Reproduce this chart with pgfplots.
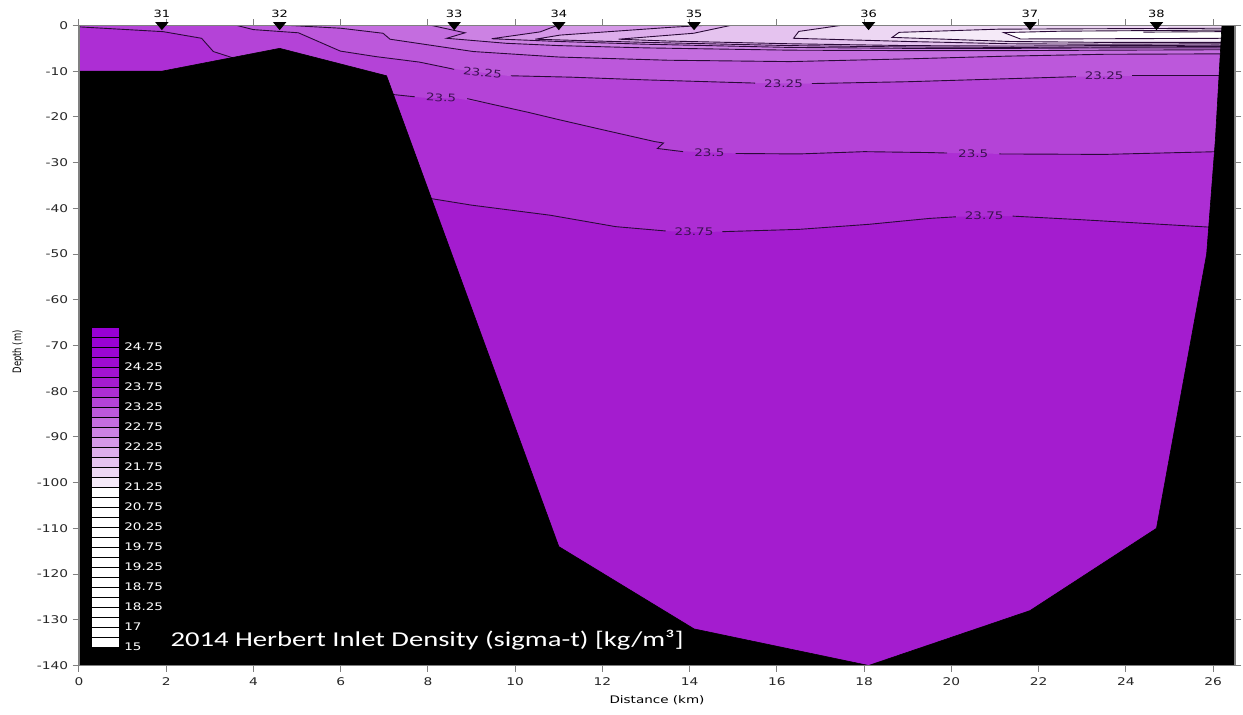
\documentclass[border=0pt]{standalone}
\usepackage{fontspec}
\setmainfont{DejaVu Sans}[FakeStretch=1.3]
\newfontfamily\titlefont{Carlito}[FakeStretch=1.35]
\newfontfamily\yfont{DejaVu Sans}[FakeStretch=0.72]
\usepackage{pgfplots}
\pgfplotsset{compat=1.18}
% band colours (named by lower bound of band)
\definecolor{c2375}{HTML}{A41CCF}
\definecolor{c2350}{HTML}{AD2ED4}
\definecolor{c2325}{HTML}{B443D7}
\definecolor{c2300}{HTML}{BC58DB}
\definecolor{c2275}{HTML}{C46DDF}
\definecolor{c2250}{HTML}{CC82E3}
\definecolor{c2225}{HTML}{D598E7}
\definecolor{c2200}{HTML}{DDAEEB}
\definecolor{c2175}{HTML}{E5C3EF}
\definecolor{c2150}{HTML}{EDD7F3}
\definecolor{c2125}{HTML}{F5EAF8}
\definecolor{cline}{HTML}{2A0A38}
\definecolor{clab}{HTML}{3A1050}
% colour-bar boxes (bottom to top)
\colorlet{cb0}{white}\colorlet{cb1}{white}\colorlet{cb2}{white}\colorlet{cb3}{white}
\colorlet{cb4}{white}\colorlet{cb5}{white}\colorlet{cb6}{white}\colorlet{cb7}{white}
\colorlet{cb8}{white}\colorlet{cb9}{white}\colorlet{cb10}{white}\colorlet{cb11}{white}
\colorlet{cb12}{white}\colorlet{cb13}{white}\colorlet{cb14}{white}\colorlet{cb15}{white}
\colorlet{cb16}{c2125}\colorlet{cb17}{c2150}\colorlet{cb18}{c2175}\colorlet{cb19}{c2200}
\colorlet{cb20}{c2225}\colorlet{cb21}{c2250}\colorlet{cb22}{c2275}\colorlet{cb23}{c2300}
\colorlet{cb24}{c2325}\colorlet{cb25}{c2350}\colorlet{cb26}{c2375}
\definecolor{cb27}{HTML}{A213D1}\definecolor{cb28}{HTML}{9F0CD2}
\definecolor{cb29}{HTML}{9C06D3}\definecolor{cb30}{HTML}{9A02D4}\definecolor{cb31}{HTML}{9800D5}
\newcommand\tickf{\fontsize{5.3}{6}\selectfont}
\newcommand\statf{\fontsize{5.0}{6}\selectfont}
\newcommand\labf{\fontsize{5.2}{6}\selectfont}
\tikzset{cl/.style={draw=cline, line width=0.45pt},
  cbl/.style={font=\labf, text=white, anchor=west, inner sep=0pt},
  clabel/.style={font=\labf, text=clab, inner sep=0pt}}
\begin{document}
\begin{tikzpicture}
\useasboundingbox (0,0) rectangle (621.5pt,357.5pt);
\begin{axis}[
  at={(39.5pt,24.75pt)}, anchor=south west,
  scale only axis, width=578pt, height=320pt,
  xmin=0, xmax=26.5, ymin=-140, ymax=0,
  xtick={0,2,4,6,8,10,12,14,16,18,20,22,24,26},
  xticklabels={0,2,4,6,8,10,12,14,16,18,20,22,24,26},
  ytick={-140,-130,-120,-110,-100,-90,-80,-70,-60,-50,-40,-30,-20,-10,0},
  yticklabels={-140,-130,-120,-110,-100,-90,-80,-70,-60,-50,-40,-30,-20,-10,0},
  tick align=outside, xtick pos=both, ytick pos=both,
  xticklabel pos=lower, yticklabel pos=left,
  major tick length=3.2pt,
  every tick/.style={color=gray, line width=0.5pt},
  axis line style={gray, line width=0.6pt},
  tick label style={font=\tickf, text=black!85},
  xticklabel style={anchor=north, inner sep=0pt, yshift=-2.6pt},
  yticklabel style={anchor=east, inner sep=0pt, xshift=-2pt},
  xlabel={Distance (km)}, ylabel={Depth (m)},
  every axis x label/.style={at={(axis description cs:0.5,-0.054)}, anchor=center, font=\labf},
  every axis y label/.style={at={(axis description cs:-0.0528,0.49)}, anchor=center, rotate=90, font=\yfont\fontsize{5.8}{6}\selectfont},
  clip=false, axis on top,
]
% base (>23.75)
\addplot[fill=c2375, draw=none] coordinates {(0,0) (26.5,0) (26.5,-140) (0,-140)} -- cycle;
% above 23.75
\addplot[fill=c2350, draw=none] coordinates {(0,0) (26.5,0) (26.5,-44.2) (25.8,-44.1) (23,-42.5) (21.3,-41.7) (20.2,-41.8) (19.5,-42.2) (18.1,-43.5) (16.5,-44.6) (14.7,-45.1) (14.1,-45.2) (13.55,-45.0) (12.3,-44.0) (10.8,-41.5) (9.0,-39.3) (8.0,-37.7) (7.5,-40) (0,-40)} -- cycle;
% above 23.5
\addplot[fill=c2325, draw=none] coordinates {(0,-0.3) (1.93,-1.35) (2.81,-2.8) (3.08,-5.7) (3.6,-7.3) (4.6,-20) (7.1,-15.0) (7.9,-15.8) (8.7,-16.0) (9.5,-17.3) (10.3,-19.0) (11.0,-20.6) (12.0,-22.8) (13.2,-25.4) (13.4,-25.7) (13.26,-26.9) (13.8,-27.5) (15.1,-28.0) (16.5,-28.1) (18.0,-27.6) (19.5,-27.8) (21.2,-28.1) (23.5,-28.2) (26.1,-27.6) (26.5,-27.6) (26.5,0) (0,0)} -- cycle;
% above 23.25
\addplot[fill=c2300, draw=none] coordinates {(3.62,0) (4.0,-0.9) (5.03,-1.6) (5.99,-5.6) (6.8,-6.8) (7.8,-8.0) (8.51,-9.4) (9.82,-11.0) (11.26,-11.3) (13,-11.9) (15.55,-12.6) (16.7,-12.7) (19,-12.3) (22.9,-11.2) (24.1,-11.0) (26.2,-11.0) (26.5,-11.0) (26.5,0)} -- cycle;
% above 23.0
\addplot[fill=c2275, draw=none] coordinates {(4.84,0) (6.0,-0.6) (6.97,-1.7) (7.13,-3.0) (9.04,-5.7) (11.0,-6.9) (13.5,-7.6) (16.3,-7.9) (19,-7.3) (21.3,-6.7) (23.5,-6.3) (26.3,-6.2) (26.5,-6.2) (26.5,0)} -- cycle;
% above 22.75
\addplot[fill=c2250, draw=none] coordinates {(8.09,0) (8.85,-1.6) (8.43,-2.8) (9.8,-3.9) (11.0,-4.4) (13,-4.9) (16.3,-5.4) (19,-5.5) (21.4,-5.5) (23.5,-5.4) (26.3,-5.3) (26.5,-5.3) (26.5,0)} -- cycle;
% above 22.5
\addplot[fill=c2225, draw=none] coordinates {(10.96,0) (10.57,-1.4) (9.46,-2.9) (11.0,-3.5) (13,-4.1) (16.3,-4.8) (19,-5.0) (21.4,-5.0) (23.5,-4.9) (26.3,-4.9) (26.5,-4.9) (26.5,0)} -- cycle;
% above 22.25
\addplot[fill=c2200, draw=none] coordinates {(14.3,0) (13.56,-0.4) (11.03,-2.1) (10.46,-3.0) (11.5,-3.3) (13,-3.7) (16.3,-4.4) (19,-4.7) (21.4,-4.8) (23.5,-4.7) (26.3,-4.6) (26.5,-4.6) (26.5,0)} -- cycle;
% above 22.0
\addplot[fill=c2175, draw=none] coordinates {(14.93,0) (14.09,-1.7) (12.37,-3.0) (13.5,-3.4) (16.3,-4.0) (19,-4.4) (21.4,-4.5) (23.5,-4.4) (26.3,-4.3) (26.5,-4.3) (26.5,0)} -- cycle;
% above 21.75
\addplot[fill=c2150, draw=none] coordinates {(17.45,0) (16.5,-1.3) (16.38,-2.8) (19,-3.5) (21.35,-4.0) (23.5,-4.1) (26.3,-4.0) (26.5,-4.0) (26.5,0)} -- cycle;
% 21.5 wedge
\addplot[fill=c2125, draw=none] coordinates {(18.64,-2.6) (18.8,-1.5) (21.1,-0.8) (26.2,-0.6) (26.5,-0.6) (26.5,-3.7) (26.3,-3.7) (23.5,-3.7) (21.35,-3.5)} -- cycle;
% 21.25 wedge
\addplot[fill=white, draw=none] coordinates {(21.2,-1.55) (22.5,-1.25) (26.2,-1.0) (26.5,-1.0) (26.5,-2.8) (26.2,-2.8) (23.5,-2.9) (21.58,-2.95)} -- cycle;

% ---- contour lines ----
% 23.75
\addplot[cl] coordinates {(7.9,-37.6) (9.0,-39.3) (10.8,-41.5) (12.3,-44.0) (13.45,-44.95)};
\addplot[cl] coordinates {(14.75,-45.1) (16.5,-44.6) (18.1,-43.5) (19.5,-42.2) (20.1,-41.85)};
\addplot[cl] coordinates {(21.4,-41.7) (23,-42.5) (25.9,-44.1)};
% 23.5
\addplot[cl] coordinates {(0,-0.3) (1.93,-1.35) (2.81,-2.8) (3.08,-5.7) (3.6,-7.3)};
\addplot[cl] coordinates {(7.1,-15.0) (7.7,-15.6)};
\addplot[cl] coordinates {(8.9,-16.0) (9.5,-17.3) (10.3,-19.0) (11.0,-20.6) (12.0,-22.8) (13.2,-25.4) (13.4,-25.7) (13.26,-26.9) (13.85,-27.6)};
\addplot[cl] coordinates {(15.05,-28.0) (16.5,-28.1) (18.0,-27.6) (19.5,-27.8) (19.9,-27.9)};
\addplot[cl] coordinates {(21.1,-28.1) (23.5,-28.2) (26.1,-27.6)};
% 23.25
\addplot[cl] coordinates {(3.62,0) (4.0,-0.9) (5.03,-1.6) (5.99,-5.6) (6.8,-6.8) (7.8,-8.0) (8.51,-9.4) (8.6,-9.6)};
\addplot[cl] coordinates {(9.9,-11.0) (11.26,-11.3) (13,-11.9) (15.5,-12.6)};
\addplot[cl] coordinates {(16.8,-12.7) (19,-12.3) (22.85,-11.2)};
\addplot[cl] coordinates {(24.15,-11.0) (26.2,-11.0)};
% 23.0
\addplot[cl] coordinates {(4.84,0) (6.0,-0.6) (6.97,-1.7) (7.13,-3.0) (9.04,-5.7) (11.0,-6.9) (13.5,-7.6) (16.3,-7.9) (19,-7.3) (21.3,-6.7) (23.5,-6.3) (26.3,-6.2)};
% 22.75
\addplot[cl] coordinates {(8.09,0) (8.85,-1.6) (8.43,-2.8) (9.8,-3.9) (11.0,-4.4) (13,-4.9) (16.3,-5.4) (19,-5.5) (21.4,-5.5) (23.5,-5.4) (26.3,-5.3)};
% 22.5
\addplot[cl] coordinates {(10.96,0) (10.57,-1.4) (9.46,-2.9) (11.0,-3.5) (13,-4.1) (16.3,-4.8) (19,-5.0) (21.4,-5.0) (23.5,-4.9) (26.3,-4.9)};
% 22.25
\addplot[cl] coordinates {(14.3,0) (13.56,-0.4) (11.03,-2.1) (10.46,-3.0) (11.5,-3.3) (13,-3.7) (16.3,-4.4) (19,-4.7) (21.4,-4.8) (23.5,-4.7) (26.3,-4.6)};
% 22.0
\addplot[cl] coordinates {(14.93,0) (14.09,-1.7) (12.37,-3.0) (13.5,-3.4) (16.3,-4.0) (19,-4.4) (21.4,-4.5) (23.5,-4.4) (26.3,-4.3)};
% 21.75
\addplot[cl] coordinates {(17.45,0) (16.5,-1.3) (16.38,-2.8) (19,-3.5) (21.35,-4.0) (23.5,-4.1) (26.3,-4.0)};
% 21.5
\addplot[cl] coordinates {(26.2,-0.6) (21.1,-0.8) (18.8,-1.5) (18.64,-2.6) (21.35,-3.5) (23.5,-3.7) (26.3,-3.7)};
% 21.25
\addplot[cl] coordinates {(26.2,-1.0) (22.5,-1.25) (21.2,-1.55) (21.58,-2.95) (23.5,-2.9) (26.2,-2.8)};
% 21.0
\addplot[cl] coordinates {(24.4,-1.45) (26.2,-1.35)};

% ---- bathymetry ----
\addplot[fill=black, draw=black, line width=0.3pt] coordinates {(0,-10) (1.9,-10) (4.6,-5) (7.05,-11) (11.0,-114) (14.1,-132) (18.1,-140) (21.8,-128) (24.7,-110) (25.85,-50) (26.05,-25) (26.2,0) (26.5,0) (26.5,-140) (0,-140)} -- cycle;

% ---- contour labels ----
\node[clabel, rotate=-6] at (axis cs:9.25,-10.3) {23.25};
\node[clabel] at (axis cs:16.15,-12.65) {23.25};
\node[clabel] at (axis cs:23.5,-11.05) {23.25};
\node[clabel, rotate=-3] at (axis cs:8.3,-15.8) {23.5};
\node[clabel] at (axis cs:14.45,-27.8) {23.5};
\node[clabel] at (axis cs:20.5,-28.0) {23.5};
\node[clabel] at (axis cs:14.1,-45.1) {23.75};
\node[clabel] at (axis cs:20.75,-41.7) {23.75};

% ---- colour bar ----
\pgfplotsinvokeforeach{0,...,31}{
  \pgfmathsetmacro\ya{-136+#1*2.1875}
  \pgfmathsetmacro\yb{-136+(#1+1)*2.1875}
  \addplot[fill=cb#1, draw=black, line width=0.5pt] coordinates {(0.29,\ya) (0.93,\ya) (0.93,\yb) (0.29,\yb)} -- cycle;
}
\node[cbl] at (axis cs:1.03,-136) {15};
\node[cbl] at (axis cs:1.03,-131.625) {17};
\node[cbl] at (axis cs:1.03,-127.25) {18.25};
\node[cbl] at (axis cs:1.03,-122.875) {18.75};
\node[cbl] at (axis cs:1.03,-118.5) {19.25};
\node[cbl] at (axis cs:1.03,-114.125) {19.75};
\node[cbl] at (axis cs:1.03,-109.75) {20.25};
\node[cbl] at (axis cs:1.03,-105.375) {20.75};
\node[cbl] at (axis cs:1.03,-101) {21.25};
\node[cbl] at (axis cs:1.03,-96.625) {21.75};
\node[cbl] at (axis cs:1.03,-92.25) {22.25};
\node[cbl] at (axis cs:1.03,-87.875) {22.75};
\node[cbl] at (axis cs:1.03,-83.5) {23.25};
\node[cbl] at (axis cs:1.03,-79.125) {23.75};
\node[cbl] at (axis cs:1.03,-74.75) {24.25};
\node[cbl] at (axis cs:1.03,-70.375) {24.75};

% ---- title ----
\node[anchor=base west, inner sep=0pt, text=white, font=\titlefont\fontsize{10.6}{12}\selectfont] at (axis cs:2.09,-135.8) {2014 Herbert Inlet Density (sigma-t) [kg/m³]};

% ---- stations ----
\addplot[only marks, mark=triangle*, mark size=3.4pt, mark options={rotate=180, yscale=0.7, fill=black, draw=black},
  nodes near coords, point meta=explicit symbolic,
  nodes near coords style={anchor=south, inner sep=0pt, yshift=3.2pt, font=\statf, text=black}]
  table[meta=lab] {
x y lab
1.9 0.15 31
4.6 0.15 32
8.6 0.15 33
11.0 0.15 34
14.1 0.15 35
18.1 0.15 36
21.8 0.15 37
24.7 0.15 38
};
\end{axis}
\end{tikzpicture}
\end{document}
